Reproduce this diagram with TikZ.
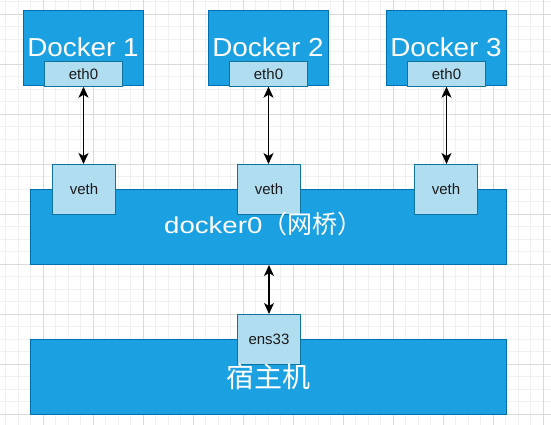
\documentclass[tikz,border=0pt]{standalone}
\usepackage{fontspec}
\setmainfont{Liberation Sans}
\newfontfamily\cjk{Noto Sans CJK SC}
\newfontfamily\widefont[FakeStretch=1.2]{Liberation Sans}
\newfontfamily\titlefont[FakeStretch=1.07]{Liberation Sans}
\usetikzlibrary{arrows.meta}
\definecolor{dblue}{HTML}{1BA1E2}
\definecolor{dstroke}{HTML}{006EAF}
\definecolor{lblue}{HTML}{B1DDF0}
\definecolor{lstroke}{HTML}{10739E}
\definecolor{gmajor}{HTML}{DADADA}
\definecolor{gminor}{HTML}{F0F0F0}
\definecolor{txt}{HTML}{1A1A1A}
\begin{document}
\begin{tikzpicture}[x=1pt,y=-1pt,
  bigbox/.style={draw=dstroke, fill=dblue, line width=1pt, inner sep=0pt, anchor=north west},
  port/.style={draw=lstroke, fill=lblue, line width=1pt, inner sep=0pt, anchor=north west, text=txt, font=\fontsize{15}{18}\selectfont},
  link/.style={line width=1.3pt, {Stealth[length=11pt,width=10pt,inset=3pt]}-{Stealth[length=11pt,width=10pt,inset=3pt]}},
  title/.style={text=white, font=\titlefont\fontsize{26}{30}\selectfont, anchor=base, inner sep=0pt}]
\useasboundingbox (0,0) rectangle (551,425);
\fill[white] (0,0) rectangle (551,425);
\begin{scope}
\clip (0,0) rectangle (551,425);
\foreach \i in {0,...,44} { \draw[gminor, line width=0.8pt] (5.5+12.5*\i,0) -- (5.5+12.5*\i,425); }
\foreach \i in {0,...,34} { \draw[gminor, line width=0.8pt] (0,1.5+12.5*\i) -- (551,1.5+12.5*\i); }
\foreach \i in {0,...,10} { \draw[gmajor, line width=0.8pt] (43+50*\i,0) -- (43+50*\i,425); }
\foreach \i in {0,...,8} { \draw[gmajor, line width=0.8pt] (0,14+50*\i) -- (551,14+50*\i); }
\end{scope}

% containers
\node[bigbox, minimum width=120pt, minimum height=75.5pt] (d1) at (23,10) {};
\node[bigbox, minimum width=120pt, minimum height=75.5pt] (d2) at (208,10) {};
\node[bigbox, minimum width=120pt, minimum height=75.5pt] (d3) at (386,10) {};
\node[title] (t1) at (83,56.7) {Docker 1};
\node[title] (t2) at (268,56.7) {Docker 2};
\node[title] (t3) at (446,56.7) {Docker 3};
\node[port, minimum width=78pt, minimum height=25pt] (e1) at (44,60.7) {eth0};
\node[port, minimum width=78pt, minimum height=25pt] (e2) at (229,60.7) {eth0};
\node[port, minimum width=78pt, minimum height=25pt] (e3) at (407,60.7) {eth0};

% bridge
\node[bigbox, minimum width=476pt, minimum height=75pt] (br) at (30,189) {};
\node[port, minimum width=63pt, minimum height=50pt] (v1) at (52,164) {veth};
\node[port, minimum width=63pt, minimum height=50pt] (v2) at (237,164) {veth};
\node[port, minimum width=63pt, minimum height=50pt] (v3) at (414,164) {veth};
\node[anchor=base west, text=white, inner sep=0pt] (brlabel) at (164,233.3)
  {{\widefont\fontsize{23}{27}\selectfont docker0}{\cjk\fontsize{25}{30}\selectfont （网桥）}};

% host
\node[bigbox, minimum width=476pt, minimum height=74.5pt] (host) at (30,339) {};
\node[port, minimum width=63pt, minimum height=50pt] (ens) at (237,314) {ens33};
\node[text=white, inner sep=0pt, font=\cjk\fontsize{28}{32}\selectfont] (hostlabel) at (268,377) {宿主机};

% links
\draw[link] (e1.south) -- (e1.south |- v1.north);
\draw[link] (e2.south) -- (e2.south |- v2.north);
\draw[link] (e3.south) -- (e3.south |- v3.north);
\draw[link] (ens.north |- br.south) -- (ens.north);
\end{tikzpicture}
\end{document}
